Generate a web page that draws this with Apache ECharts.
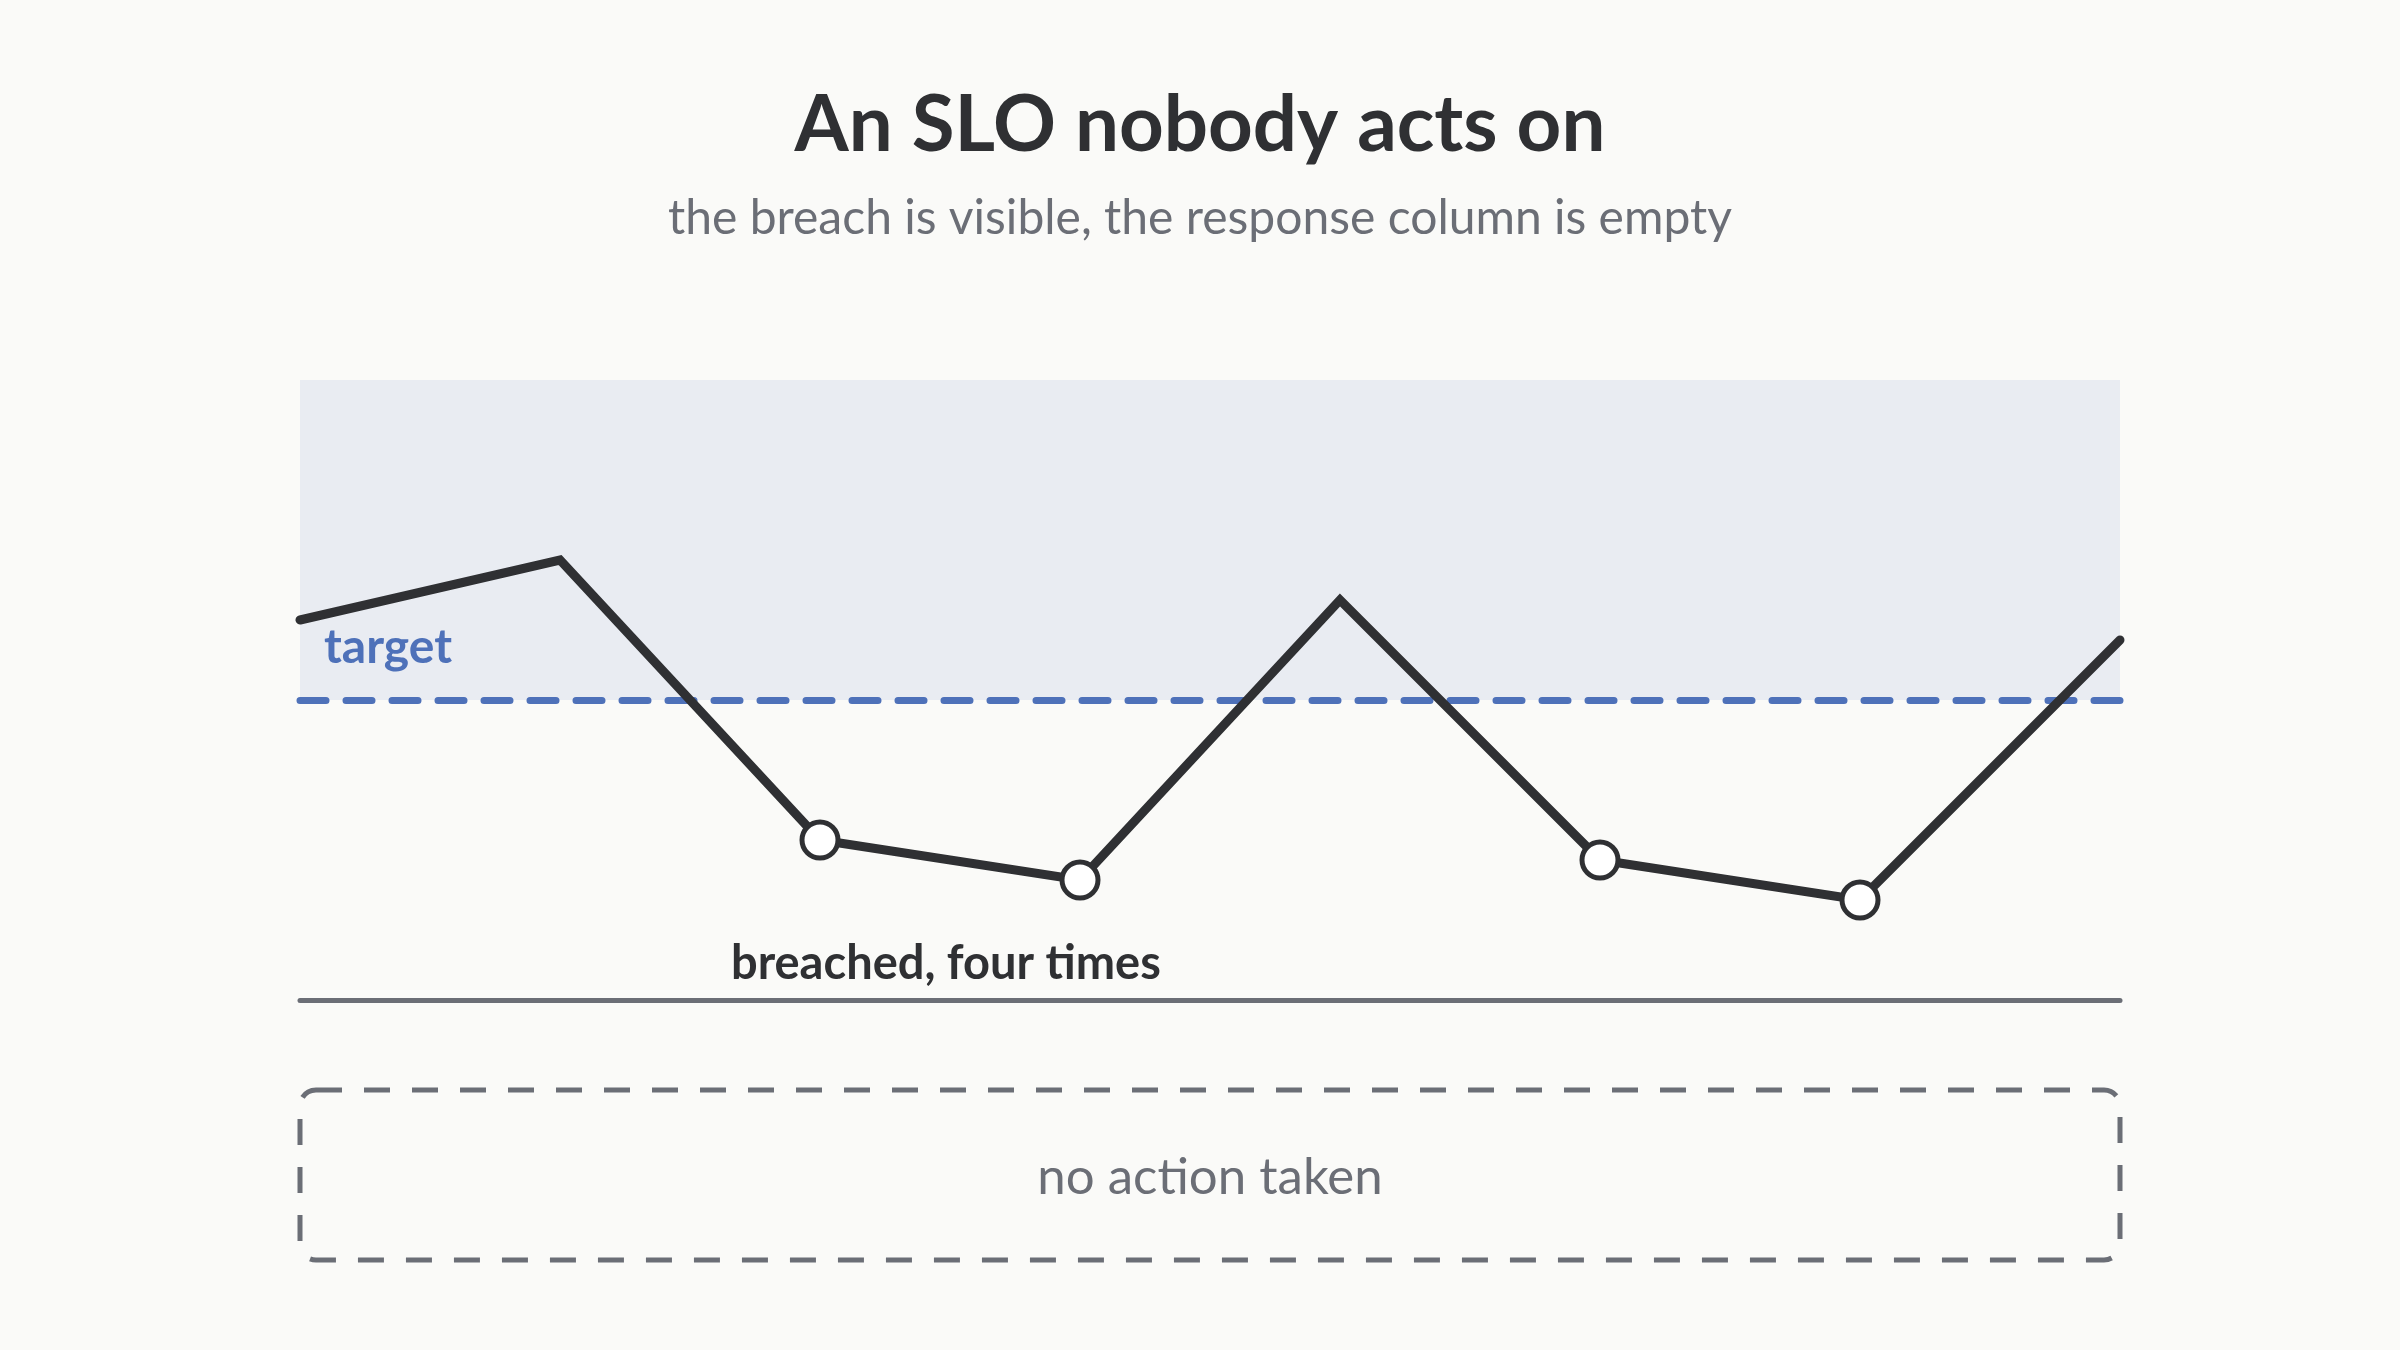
<!DOCTYPE html>
<html>
<head>
<meta charset="utf-8">
<title>An SLO nobody acts on</title>
<script src="https://cdn.jsdelivr.net/npm/echarts@6/dist/echarts.min.js"></script>
<style>
  html, body { margin: 0; padding: 0; background: #fafaf8; }
  #main { width: 2400px; height: 1350px; }
</style>
</head>
<body>
<div id="main"></div>
<script>
// weekly SLI readings against the target
var weeks = ['W1', 'W2', 'W3', 'W4', 'W5', 'W6', 'W7', 'W8'];
var sli = [38, 44, 16, 12, 40, 14, 10, 36];
var target = 30;
var axisMin = 0;
var axisMax = 62;

var INK = '#2f3033';
var GREY = '#6b6e76';
var BLUE = '#4e71b9';
var FONT = 'Lato, "Noto Sans", sans-serif';

function buildPoints() {
    // only the weeks under target get a marker
    return sli.map(function (v) {
        if (v < target) {
            return {
                value: v,
                symbol: 'circle',
                symbolSize: 36,
                itemStyle: { color: '#ffffff', borderColor: INK, borderWidth: 5 }
            };
        }
        return { value: v, symbol: 'none' };
    });
}

function createOption() {
    var option = {
        backgroundColor: '#fafaf8',
        animation: false,
        title: {
            text: 'An SLO nobody acts on',
            subtext: 'the breach is visible, the response column is empty',
            left: 'center',
            top: 82,
            itemGap: 30,
            textStyle: { fontFamily: FONT, fontSize: 78, fontWeight: 'bold', color: INK },
            subtextStyle: { fontFamily: FONT, fontSize: 48, color: GREY }
        },
        grid: { left: 300, right: 280, top: 380, bottom: 350 },
        xAxis: {
            type: 'category',
            data: weeks,
            boundaryGap: false,
            axisLine: { show: true, lineStyle: { color: GREY, width: 5, cap: 'round' } },
            axisTick: { show: false },
            axisLabel: { show: false },
            splitLine: { show: false }
        },
        yAxis: {
            type: 'value',
            min: axisMin,
            max: axisMax,
            show: false,
            splitLine: { show: false }
        },
        series: [
            {
                name: 'SLI',
                type: 'line',
                data: buildPoints(),
                z: 5,
                lineStyle: { color: INK, width: 9, cap: 'round', join: 'miter' },
                markArea: {
                    silent: true,
                    itemStyle: { color: '#e9ecf2' },
                    data: [[{ yAxis: target }, { yAxis: axisMax }]]
                },
                markLine: {
                    silent: true,
                    symbol: 'none',
                    label: { show: false },
                    lineStyle: { color: BLUE, width: 7, type: [26, 20], cap: 'round' },
                    data: [{ yAxis: target }]
                }
            }
        ],
        graphic: [
            {
                type: 'text', left: 324, top: 624, z: 100,
                style: { text: 'target', fontFamily: FONT, fontSize: 48, fontWeight: 'bold', fill: BLUE }
            },
            {
                type: 'text', left: 731, top: 940, z: 100,
                style: { text: 'breached, four times', fontFamily: FONT, fontSize: 47, fontWeight: 'bold', fill: INK }
            },
            {
                type: 'rect', z: 100,
                shape: { x: 300, y: 1090, width: 1820, height: 170, r: 16 },
                style: { fill: 'none', stroke: GREY, lineWidth: 5, lineDash: [26, 22] }
            },
            {
                type: 'text', x: 1210, y: 1178, z: 100,
                style: {
                    text: 'no action taken', fontFamily: FONT, fontSize: 51, fill: GREY,
                    textAlign: 'center', textVerticalAlign: 'middle'
                }
            }
        ]
    };
    return option;
}

var myChart = echarts.init(document.getElementById('main'));
myChart.setOption(createOption());
</script>
</body>
</html>
